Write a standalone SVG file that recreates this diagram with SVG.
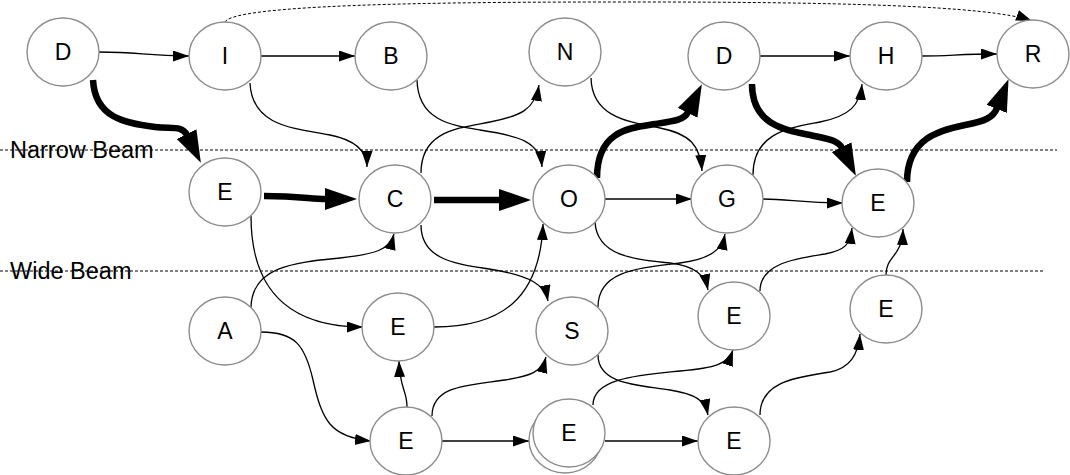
<svg xmlns="http://www.w3.org/2000/svg" width="1070" height="475" viewBox="0 0 1070 475">
<style>
.bg{fill:#ffffff}
.beam{stroke:#000;stroke-width:1;stroke-dasharray:3,2;fill:none}
.lbl{font-family:"Liberation Sans",Arial,sans-serif;font-size:23.5px;fill:#000}
.node ellipse{fill:#fff;stroke:#8c8c8c;stroke-width:1.4}
.node text{font-family:"Liberation Sans",Arial,sans-serif;font-size:23px;fill:#000;text-anchor:middle}
.e{fill:none;stroke:#000;stroke-width:1.3;marker-end:url(#ah)}
.t{fill:none;stroke:#000;stroke-width:6.5;marker-end:url(#ahT)}
.d{fill:none;stroke:#000;stroke-width:1;stroke-dasharray:3,2;marker-end:url(#ah)}
</style>
<defs>
<marker id="ah" markerUnits="userSpaceOnUse" markerWidth="18" markerHeight="13" refX="16" refY="5.5" orient="auto"><path d="M0,0 L16,5.5 L0,11 z" fill="#000"/></marker>
<marker id="ahT" markerUnits="userSpaceOnUse" markerWidth="36" markerHeight="24" refX="1" refY="11" orient="auto"><path d="M0,0 L32,11 L0,22 z" fill="#000"/></marker>
</defs>
<rect class="bg" x="0" y="0" width="1070" height="475"/>
<g id="beams">
<line class="beam" x1="0" y1="150" x2="1057" y2="150"/>
<line class="beam" x1="0" y1="271" x2="1045" y2="271"/>
<text class="lbl" x="10" y="158">Narrow Beam</text>
<text class="lbl" x="10" y="279">Wide Beam</text>
</g>
<g id="connectors">
<path class="e" d="M99,52 C140,52 145,56 189,56"/>
<path class="e" d="M261,56 L355,56"/>
<path class="e" d="M417,80 C418,120 450,125 480,130 C520,136 540,142 542,167"/>
<path class="e" d="M250,83 C252,125 290,128 330,135 C355,140 367,150 367,167"/>
<path class="t" d="M93,80 C95,118 125,123 155,127 C172,129 182,125 187,135"/>
<path class="t" d="M264,196 C300,196 310,199 326,199"/>
<path class="t" d="M434,200 L500,200"/>
<path class="e" d="M421,173 C421,130 460,128 490,122 C520,116 535,110 539,85"/>
<path class="e" d="M591,78 C592,118 630,122 660,128 C690,134 700,145 702,171"/>
<path class="t" d="M597,178 C597,130 630,128 655,124 C675,121 684,120 688,112"/>
<path class="e" d="M605,199 L692,199"/>
<path class="e" d="M759,56 L850,56"/>
<path class="e" d="M922,56 C950,56 960,54 997,54"/>
<path class="t" d="M752,84 C752,125 785,130 810,135 C828,139 838,140 842,148"/>
<path class="e" d="M753,175 C753,132 790,128 820,122 C850,116 860,105 862,84"/>
<path class="e" d="M763,199 C790,199 800,203 843,203"/>
<path class="t" d="M907,182 C907,138 940,130 965,125 C985,121 993,118 997,108"/>
<path class="d" d="M225,22 C235,2 500,2 640,2 C820,2 990,5 1032,21"/>
<path class="e" d="M251,216 C251,300 300,327 363,327"/>
<path class="e" d="M251,308 C251,265 300,262 340,258 C375,254 390,250 394,234"/>
<path class="e" d="M261,332 C295,332 305,345 313,380 C322,420 330,437 371,441"/>
<path class="e" d="M421,225 C421,262 460,264 495,270 C530,276 545,285 548,301"/>
<path class="e" d="M434,327 C500,327 540,300 543,224"/>
<path class="e" d="M407,407 C407,390 400,390 399,361"/>
<path class="e" d="M432,416 C432,385 470,385 505,380 C530,376 542,372 546,357"/>
<path class="e" d="M442,441 L529,441"/>
<path class="e" d="M595,222 C597,258 640,260 670,263 C695,266 705,275 708,290"/>
<path class="e" d="M598,307 C598,270 640,268 680,263 C710,259 722,250 725,234"/>
<path class="e" d="M598,355 C598,385 640,385 670,390 C695,394 705,400 708,415"/>
<path class="e" d="M593,405 C593,378 640,375 680,371 C715,368 728,364 733,350"/>
<path class="e" d="M605,441 L698,441"/>
<path class="e" d="M760,291 C760,262 800,258 825,254 C845,250 850,245 852,228"/>
<path class="e" d="M886,275 C886,255 902,258 903,229"/>
<path class="e" d="M760,415 C760,380 800,377 830,372 C850,368 858,355 860,334"/>
</g>
<g id="n-D1" class="node"><ellipse cx="63" cy="52" rx="36" ry="34"/><text x="63" y="60">D</text></g>
<g id="n-I" class="node"><ellipse cx="225" cy="56" rx="36" ry="34"/><text x="225" y="64">I</text></g>
<g id="n-B" class="node"><ellipse cx="391" cy="56" rx="36" ry="34"/><text x="391" y="64">B</text></g>
<g id="n-N" class="node"><ellipse cx="565" cy="52" rx="36" ry="34"/><text x="565" y="60">N</text></g>
<g id="n-D2" class="node"><ellipse cx="724" cy="56" rx="36" ry="34"/><text x="724" y="64">D</text></g>
<g id="n-H" class="node"><ellipse cx="886" cy="56" rx="36" ry="34"/><text x="886" y="64">H</text></g>
<g id="n-R" class="node"><ellipse cx="1033" cy="54" rx="36" ry="34"/><text x="1033" y="62">R</text></g>
<g id="n-E1" class="node"><ellipse cx="225" cy="192" rx="36" ry="34"/><text x="225" y="200">E</text></g>
<g id="n-C" class="node"><ellipse cx="395" cy="199" rx="36" ry="34"/><text x="395" y="207">C</text></g>
<g id="n-O" class="node"><ellipse cx="569" cy="199" rx="36" ry="34"/><text x="569" y="207">O</text></g>
<g id="n-G" class="node"><ellipse cx="727" cy="199" rx="36" ry="34"/><text x="727" y="207">G</text></g>
<g id="n-E2" class="node"><ellipse cx="878" cy="203" rx="36" ry="34"/><text x="878" y="211">E</text></g>
<g id="n-A" class="node"><ellipse cx="225" cy="331" rx="36" ry="34"/><text x="225" y="339">A</text></g>
<g id="n-E3" class="node"><ellipse cx="398" cy="327" rx="36" ry="34"/><text x="398" y="335">E</text></g>
<g id="n-S" class="node"><ellipse cx="572" cy="331" rx="36" ry="34"/><text x="572" y="339">S</text></g>
<g id="n-E4" class="node"><ellipse cx="734" cy="316" rx="36" ry="34"/><text x="734" y="324">E</text></g>
<g id="n-E5" class="node"><ellipse cx="886" cy="309" rx="36" ry="34"/><text x="886" y="317">E</text></g>
<g id="n-E6" class="node"><ellipse cx="406" cy="441" rx="36" ry="34"/><text x="406" y="449">E</text></g>
<g id="n-E7" class="node"><ellipse cx="565" cy="440" rx="36" ry="33"/><ellipse cx="569" cy="433" rx="36" ry="34"/><text x="569" y="441">E</text></g>
<g id="n-E8" class="node"><ellipse cx="734" cy="441" rx="36" ry="34"/><text x="734" y="449">E</text></g>
</svg>
